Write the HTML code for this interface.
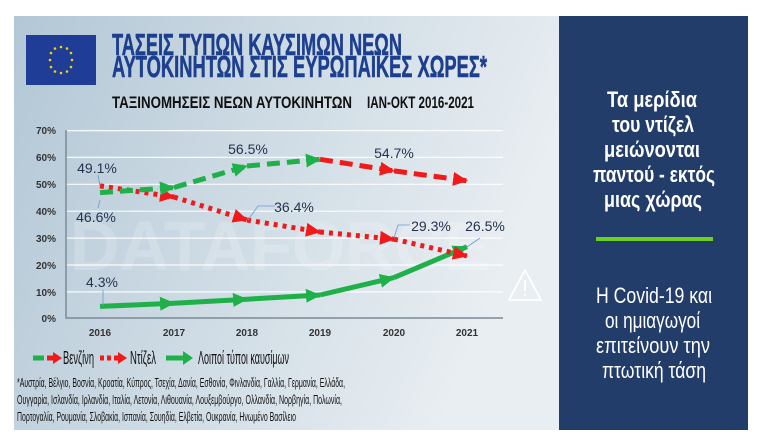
<!DOCTYPE html>
<html><head><meta charset="utf-8"><style>
html,body{margin:0;padding:0;background:#fff;}
svg{display:block;font-family:"Liberation Sans Narrow","Liberation Sans","Noto Sans CJK SC",sans-serif;}
</style></head><body>
<svg width="768" height="446" viewBox="0 0 768 446" xmlns="http://www.w3.org/2000/svg">
<defs>
<linearGradient id="bg" x1="0" y1="0" x2="1" y2="0.3">
<stop offset="0" stop-color="#b3c7d6"/><stop offset="0.6" stop-color="#d3dfe7"/><stop offset="1" stop-color="#e9eef2"/>
</linearGradient>
<marker id="ag" markerUnits="userSpaceOnUse" markerWidth="16" markerHeight="16" refX="14" refY="8" orient="auto"><path d="M0,1 L15,8 L0,15 Z" fill="#1fb04a"/></marker>
<marker id="ar" markerUnits="userSpaceOnUse" markerWidth="16" markerHeight="16" refX="14" refY="8" orient="auto"><path d="M0,1 L15,8 L0,15 Z" fill="#f01a1a"/></marker>
</defs>
<rect x="14" y="16" width="546" height="414" fill="url(#bg)"/>
<rect x="559" y="16" width="189" height="414" fill="#233d6b"/>
<text x="70" y="270" font-size="70" font-family="Liberation Sans" fill="#fff" opacity="0.18" font-weight="bold" textLength="420" lengthAdjust="spacingAndGlyphs">DATAFORCE</text>
<rect x="26" y="35" width="70" height="50" fill="#1f3d96"/>
<g fill="#f5d400">
<circle cx="61" cy="47" r="1.3"/><circle cx="67" cy="48.5" r="1.3"/><circle cx="71" cy="53" r="1.3"/><circle cx="72" cy="60" r="1.3"/><circle cx="71" cy="67" r="1.3"/><circle cx="67" cy="71.5" r="1.3"/><circle cx="61" cy="73" r="1.3"/><circle cx="55" cy="71.5" r="1.3"/><circle cx="51" cy="67" r="1.3"/><circle cx="50" cy="60" r="1.3"/><circle cx="51" cy="53" r="1.3"/><circle cx="55" cy="48.5" r="1.3"/>
</g>
<text x="112" y="55" font-size="31" font-weight="bold" fill="#1d3f8f" stroke="#1d3f8f" stroke-width="0.6" textLength="290" lengthAdjust="spacingAndGlyphs">ΤΑΣΕΙΣ ΤΥΠΩΝ ΚΑΥΣΙΜΩΝ ΝΕΩΝ</text>
<text x="112" y="77" font-size="31" font-weight="bold" fill="#1d3f8f" stroke="#1d3f8f" stroke-width="0.6" textLength="375" lengthAdjust="spacingAndGlyphs">ΑΥΤΟΚΙΝΗΤΩΝ ΣΤΙΣ ΕΥΡΩΠΑΪΚΕΣ ΧΩΡΕΣ*</text>
<text x="112" y="108" font-size="17" font-weight="bold" fill="#111" textLength="240" lengthAdjust="spacingAndGlyphs">ΤΑΞΙΝΟΜΗΣΕΙΣ ΝΕΩΝ ΑΥΤΟΚΙΝΗΤΩΝ</text>
<text x="367" y="108" font-size="17" font-weight="bold" fill="#111" textLength="107" lengthAdjust="spacingAndGlyphs">ΙΑΝ-ΟΚΤ 2016-2021</text>
<g stroke="#fff" stroke-width="1.2" opacity="0.9">
<line x1="66" y1="130.6" x2="503" y2="130.6"/><line x1="66" y1="157.4" x2="503" y2="157.4"/><line x1="66" y1="184.3" x2="503" y2="184.3"/><line x1="66" y1="211.2" x2="503" y2="211.2"/><line x1="66" y1="238.1" x2="503" y2="238.1"/><line x1="66" y1="265" x2="503" y2="265"/><line x1="66" y1="291.9" x2="503" y2="291.9"/>
</g>
<path d="M66,130 V318 H503" stroke="#7b8a96" stroke-width="1.5" fill="none"/>
<g font-family="Liberation Sans" font-size="10" font-weight="bold" fill="#333" text-anchor="end">
<text x="56" y="134">70%</text><text x="56" y="161">60%</text><text x="56" y="188">50%</text><text x="56" y="215">40%</text><text x="56" y="242">30%</text><text x="56" y="269">20%</text><text x="56" y="296">10%</text><text x="56" y="322">0%</text>
</g>
<g font-family="Liberation Sans" font-size="10" font-weight="bold" fill="#333" text-anchor="middle">
<text x="100" y="336">2016</text><text x="174" y="336">2017</text><text x="247" y="336">2018</text><text x="320" y="336">2019</text><text x="394" y="336">2020</text><text x="467" y="336">2021</text>
</g>
<path d="M525,270 L541,300 L509,300 Z" fill="none" stroke="#fff" stroke-width="1.8" stroke-linejoin="round"/>
<line x1="525" y1="280" x2="525" y2="291" stroke="#fff" stroke-width="1.8"/><circle cx="525" cy="295" r="1" fill="#fff"/>
<g stroke="#1fb04a" stroke-width="5" fill="none" marker-end="url(#ag)">
<line x1="100" y1="306.4" x2="174" y2="303.2"/><line x1="174" y1="303.2" x2="247" y2="299.2"/><line x1="247" y1="299.2" x2="320" y2="295"/><line x1="320" y1="295" x2="394" y2="277.6"/><line x1="394" y1="277.6" x2="467" y2="246.7"/>
</g>
<g stroke="#f01a1a" stroke-width="5" stroke-dasharray="4,5" fill="none" marker-end="url(#ar)">
<line x1="100" y1="185.9" x2="174" y2="197"/><line x1="174" y1="197" x2="247" y2="220"/><line x1="247" y1="220" x2="320" y2="232"/><line x1="320" y1="232" x2="394" y2="239.2"/><line x1="394" y1="239.2" x2="467" y2="256"/>
</g>
<g stroke="#1fb04a" stroke-width="5" stroke-dasharray="13,7" fill="none" marker-end="url(#ag)">
<line x1="100" y1="192.6" x2="174" y2="187.5"/><line x1="174" y1="187.5" x2="247" y2="166"/><line x1="247" y1="166" x2="320" y2="159.3"/>
</g>
<g stroke="#f01a1a" stroke-width="5" stroke-dasharray="13,7" fill="none" marker-end="url(#ar)">
<line x1="320" y1="159.3" x2="394" y2="170.9"/><line x1="394" y1="170.9" x2="467" y2="180.8"/>
</g>
<g stroke="#6a9ad0" stroke-width="0.8" fill="none">
<path d="M98,175 L100,186"/><path d="M100,200 L98,208"/><path d="M248,220 L258,206 H275"/><path d="M394,238 L398,225 H410"/><path d="M467,247 L480,238"/><path d="M103,290 L103,306"/>
</g>
<g font-family="Liberation Sans" font-size="14" fill="#26334f" text-anchor="middle">
<text x="97" y="173">49.1%</text><text x="96" y="222">46.6%</text><text x="248" y="154">56.5%</text><text x="394" y="158">54.7%</text><text x="294" y="212">36.4%</text><text x="431" y="231">29.3%</text><text x="485" y="231">26.5%</text><text x="102" y="287">4.3%</text>
</g>
<line x1="33" y1="358" x2="44" y2="358" stroke="#1fb04a" stroke-width="5"/>
<line x1="47" y1="358" x2="54" y2="358" stroke="#f01a1a" stroke-width="5"/><path d="M53,352 L62,358 L53,364 Z" fill="#f01a1a"/>
<text x="63" y="364" font-size="18" fill="#111" textLength="31" lengthAdjust="spacingAndGlyphs">Βενζίνη</text>
<line x1="100" y1="358" x2="118" y2="358" stroke="#f01a1a" stroke-width="5" stroke-dasharray="4,3"/><path d="M118,352 L127,358 L118,364 Z" fill="#f01a1a"/>
<text x="130" y="364" font-size="18" fill="#111" textLength="26" lengthAdjust="spacingAndGlyphs">Ντίζελ</text>
<line x1="166" y1="358" x2="184" y2="358" stroke="#1fb04a" stroke-width="5"/><path d="M183,351 L193,358 L183,365 Z" fill="#1fb04a"/>
<text x="198" y="364" font-size="18" fill="#111" textLength="91" lengthAdjust="spacingAndGlyphs">Λοιποί τύποι καυσίμων</text>
<g font-size="13" fill="#111">
<text x="17" y="387" textLength="328" lengthAdjust="spacingAndGlyphs">*Αυστρία, Βέλγιο, Βοσνία, Κροατία, Κύπρος, Τσεχία, Δανία, Εσθονία, Φινλανδία, Γαλλία, Γερμανία, Ελλάδα,</text>
<text x="17" y="404" textLength="325" lengthAdjust="spacingAndGlyphs">Ουγγαρία, Ισλανδία, Ιρλανδία, Ιταλία, Λετονία, Λιθουανία, Λουξεμβούργο, Ολλανδία, Νορβηγία, Πολωνία,</text>
<text x="17" y="421" textLength="279" lengthAdjust="spacingAndGlyphs">Πορτογαλία, Ρουμανία, Σλοβακία, Ισπανία, Σουηδία, Ελβετία, Ουκρανία, Ηνωμένο Βασίλειο</text>
</g>
<g fill="#fff" font-size="22" font-weight="bold">
<text x="607" y="107" textLength="90" lengthAdjust="spacingAndGlyphs">Τα μερίδια</text>
<text x="612" y="132" textLength="82" lengthAdjust="spacingAndGlyphs">του ντίζελ</text>
<text x="604" y="157" textLength="96" lengthAdjust="spacingAndGlyphs">μειώνονται</text>
<text x="593" y="182" textLength="122" lengthAdjust="spacingAndGlyphs">παντού - εκτός</text>
<text x="604" y="207" textLength="98" lengthAdjust="spacingAndGlyphs">μιας χώρας</text>
</g>
<rect x="596" y="237" width="117" height="4" fill="#6ad11e"/>
<g fill="#fff" font-size="22">
<text x="596" y="303" textLength="116" lengthAdjust="spacingAndGlyphs">Η Covid-19 και</text>
<text x="605" y="328" textLength="95" lengthAdjust="spacingAndGlyphs">οι ημιαγωγοί</text>
<text x="596" y="353" textLength="114" lengthAdjust="spacingAndGlyphs">επιτείνουν την</text>
<text x="602" y="378" textLength="104" lengthAdjust="spacingAndGlyphs">πτωτική τάση</text>
</g>
</svg>
</body></html>
